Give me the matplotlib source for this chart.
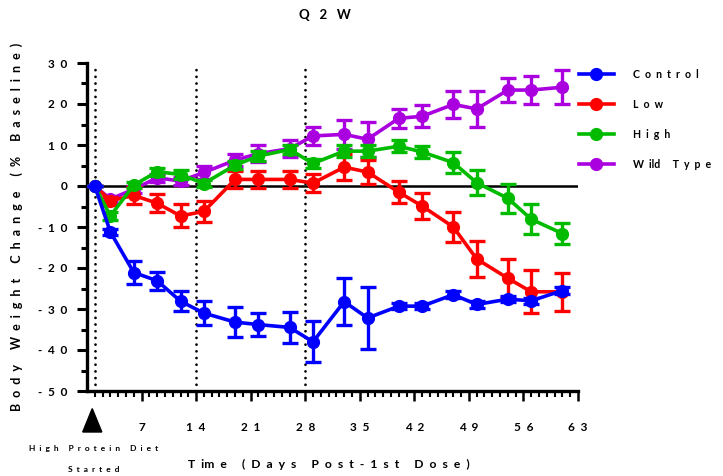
import matplotlib
matplotlib.use("Agg")
import matplotlib.pyplot as plt
from matplotlib.patches import Polygon
from matplotlib.lines import Line2D

plt.rcParams['font.family'] = ['Lato', 'DejaVu Sans']
plt.rcParams['font.weight'] = 'bold'

# days of measurement
days = [1, 3, 6, 9, 12, 15, 19, 22, 26, 29, 33, 36, 40, 43, 47, 50, 54, 57, 61]

control = [0, -11.2, -21.1, -23.1, -28.1, -31.0, -33.2, -33.8, -34.5, -38.0,
           -28.2, -32.2, -29.3, -29.3, -26.5, -28.9, -27.6, -28.0, -25.5]
control_err = [0, 0.8, 2.7, 2.2, 2.4, 3.0, 3.6, 2.8, 3.8, 5.0,
               5.8, 7.6, 0.8, 0.8, 0.8, 0.8, 0.8, 0.8, 0.8]

low = [0, -3.6, -2.3, -4.2, -7.3, -6.2, 1.6, 1.6, 1.6, 0.7,
       4.6, 3.4, -1.5, -4.9, -10.0, -17.8, -22.5, -25.8, -25.8]
low_err = [0, 1.0, 2.0, 2.2, 2.8, 2.5, 2.0, 2.0, 2.0, 2.2,
           3.2, 3.0, 2.7, 3.2, 3.6, 4.5, 4.7, 5.2, 4.7]

high = [0, -7.3, 0.2, 3.5, 2.8, 0.6, 5.1, 7.3, 8.9, 5.5,
        8.5, 8.5, 9.7, 8.3, 5.7, 0.8, -3.0, -8.1, -11.6]
high_err = [0, 1.0, 0.8, 1.0, 1.0, 0.8, 1.0, 1.2, 1.0, 1.2,
            1.5, 1.5, 1.5, 1.5, 2.6, 3.1, 3.6, 3.6, 2.6]

wild = [0, -3.2, -0.8, 2.0, 1.2, 3.3, 6.3, 7.9, 9.1, 12.2,
        12.6, 11.4, 16.5, 17.0, 19.9, 18.8, 23.4, 23.4, 24.1]
wild_err = [0, 0.8, 0.8, 1.0, 1.0, 1.5, 1.5, 2.0, 2.0, 2.3,
            3.5, 4.3, 2.3, 2.7, 3.3, 4.3, 2.9, 3.5, 4.2]

labels = ['Control', 'Low', 'High', 'Wild Type']
colors = ['#0000ff', '#ff0000', '#00bb00', '#aa00e0']
vlines_days = [1, 14, 28]
yticks = [30, 20, 10, 0, -10, -20, -30, -40, -50]
xticks = [7, 14, 21, 28, 35, 42, 49, 56, 63]


def spaced(s, n=2):
    # letter-spaced text like the original; 'i' runs stay tight there
    out = (' ' * n).join(s)
    return out.replace('i' + ' ' * n + 'l' + ' ' * n + 'd', 'ild').replace(
        'i' + ' ' * n + 'm', 'im')


fig = plt.figure(figsize=(7.23, 4.76), dpi=100)
ax = fig.add_axes([87 / 723, 1 - 391 / 476, (578 - 87) / 723, (391 - 63) / 476])

ax.axhline(0, color='black', lw=1.8, zorder=1)
for d in vlines_days:
    ax.plot([d, d], [-50, 30], color='black', lw=2.0, ls=(0, (0.01, 2.4)),
            dash_capstyle='round', zorder=1)

series = [(wild, wild_err, colors[3]), (low, low_err, colors[1]),
          (high, high_err, colors[2]), (control, control_err, colors[0])]
for i, (vals, errs, c) in enumerate(series):
    ax.errorbar(days, vals, yerr=errs, color=c, lw=2.6, marker='o', ms=8.5,
                elinewidth=2.4, capsize=5.5, capthick=2.4, zorder=3 + i,
                clip_on=False)

ax.set_xlim(0, 63)
ax.set_ylim(-50, 30)

for s in ['top', 'right']:
    ax.spines[s].set_visible(False)
for s in ['left', 'bottom']:
    ax.spines[s].set_linewidth(2.4)

ax.set_yticks(yticks)
ax.set_yticklabels([spaced(str(v)) for v in yticks], fontsize=8.5, fontweight='bold')
ax.set_yticks(range(-45, 30, 10), minor=True)
ax.set_xticks(xticks)
ax.set_xticklabels([spaced(str(v)) for v in xticks], fontsize=8.5, fontweight='bold')
ax.set_xticks(range(1, 63), minor=True)
ax.tick_params(axis='y', which='major', length=7, width=2.2, pad=7)
ax.tick_params(axis='y', which='minor', length=4, width=2.2)
ax.tick_params(axis='x', which='major', length=7, width=1.8, pad=15)
ax.tick_params(axis='x', which='minor', length=4, width=1.5)

ax.set_ylabel(spaced('Body Weight Change (% Baseline)', 2), fontsize=9,
              fontweight='bold', labelpad=11)
fig.text(329 / 723, 1 - 464 / 476, spaced('Time (Days Post-1st Dose)', 2),
         fontsize=8.7, fontweight='bold', ha='center', va='center')
fig.text(325 / 723, 1 - 15 / 476, spaced('Q2W', 3), fontsize=9.5,
         fontweight='bold', ha='center', va='center')

# diet start marker
tri = Polygon([(-0.55, -60), (1.9, -60), (0.67, -54.3)], closed=True,
              color='black', clip_on=False, transform=ax.transData)
ax.add_patch(tri)
fig.text(94 / 723, 1 - 449 / 476, spaced('High Protein Diet', 2), fontsize=6,
         fontweight='bold', ha='center', va='center')
fig.text(94 / 723, 1 - 470 / 476, spaced('Started', 2), fontsize=6,
         fontweight='bold', ha='center', va='center')

handles = [Line2D([], [], color=c, lw=2.6, marker='o', ms=8.5) for c in colors]
fig.legend(handles, [spaced(l, 2) for l in labels], loc='upper left',
           bbox_to_anchor=(579 / 723, 1 - 69 / 476), frameon=False,
           handlelength=3.3, handletextpad=1.8,
           labelspacing=1.8, borderpad=0, borderaxespad=0,
           prop={'weight': 'bold', 'size': 7.6})

fig.savefig('out.png', dpi=100)
